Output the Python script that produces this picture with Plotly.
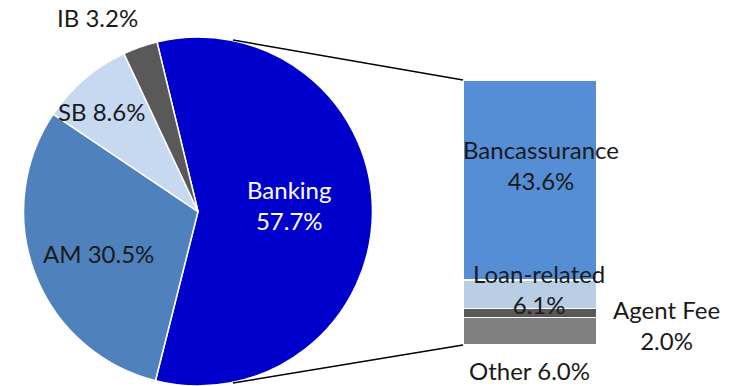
import plotly.graph_objects as go

# ---- data ----
pie_labels = ["Banking", "AM", "SB", "IB"]
pie_values = [57.7, 30.5, 8.6, 3.2]
pie_colors = ["#0000CC", "#4F81BD", "#C6D9F1", "#595959"]

bar_labels = ["Other", "Agent Fee", "Loan-related", "Bancassurance"]
bar_values = [6.0, 2.0, 6.1, 43.6]
bar_colors = ["#808080", "#595959", "#B9CDE5", "#558ED5"]

W, H = 732, 386
FONT = "Lato"
FS = 24

def px(x):
    return x / W

def py(y):
    return 1 - y / H

fig = go.Figure()

fig.add_trace(go.Pie(
    labels=pie_labels, values=pie_values, sort=False, direction="clockwise",
    rotation=-13.6,
    marker=dict(colors=pie_colors, line=dict(color="white", width=1.5)),
    textinfo="none", hoverinfo="none", showlegend=False,
    domain=dict(x=[0.030, 0.511], y=[0.0, 0.904]),
))

for lab, val, col in zip(bar_labels, bar_values, bar_colors):
    fig.add_trace(go.Bar(
        x=[0], y=[val], name=lab, width=1,
        marker=dict(color=col, line=dict(color="white", width=1.5)),
        hoverinfo="none", showlegend=False,
    ))

bar_x0, bar_x1 = px(463), px(597)
bar_y0, bar_y1 = py(345), py(80)

fig.update_layout(
    width=W, height=H, margin=dict(l=0, r=0, t=0, b=0),
    paper_bgcolor="white", plot_bgcolor="rgba(0,0,0,0)",
    barmode="stack",
    xaxis=dict(domain=[bar_x0, bar_x1], range=[-0.5, 0.5], visible=False, fixedrange=True),
    yaxis=dict(domain=[bar_y0, bar_y1], range=[0, sum(bar_values)], visible=False, fixedrange=True),
    font=dict(family=FONT, size=FS, color="#1a1a1a"),
)

# connector lines
fig.add_shape(type="line", xref="paper", yref="paper",
              x0=px(233), y0=py(40), x1=bar_x0, y1=bar_y1,
              line=dict(color="black", width=1.5))
fig.add_shape(type="line", xref="paper", yref="paper",
              x0=px(233), y0=py(383), x1=bar_x0, y1=bar_y0,
              line=dict(color="black", width=1.5))

def ann(x, y, text, color="#1a1a1a"):
    fig.add_annotation(x=px(x), y=py(y), xref="paper", yref="paper", text=text,
                       showarrow=False, xanchor="center", yanchor="middle",
                       font=dict(family=FONT, size=FS, color=color))

pv = dict(zip(pie_labels, pie_values))
bv = dict(zip(bar_labels, bar_values))

ann(97, 18, f"IB {pv['IB']:.1f}%")
ann(102, 112, f"SB {pv['SB']:.1f}%")
ann(98, 253, f"AM {pv['AM']:.1f}%")
ann(289, 205, f"Banking<br>{pv['Banking']:.1f}%", color="white")
ann(541, 165, f"Bancassurance<br>{bv['Bancassurance']:.1f}%")
ann(539, 289, f"Loan-related<br>{bv['Loan-related']:.1f}%")
ann(666, 325, f"Agent Fee<br>{bv['Agent Fee']:.1f}%")
ann(529, 370, f"Other {bv['Other']:.1f}%")

fig.write_html("out.html")
